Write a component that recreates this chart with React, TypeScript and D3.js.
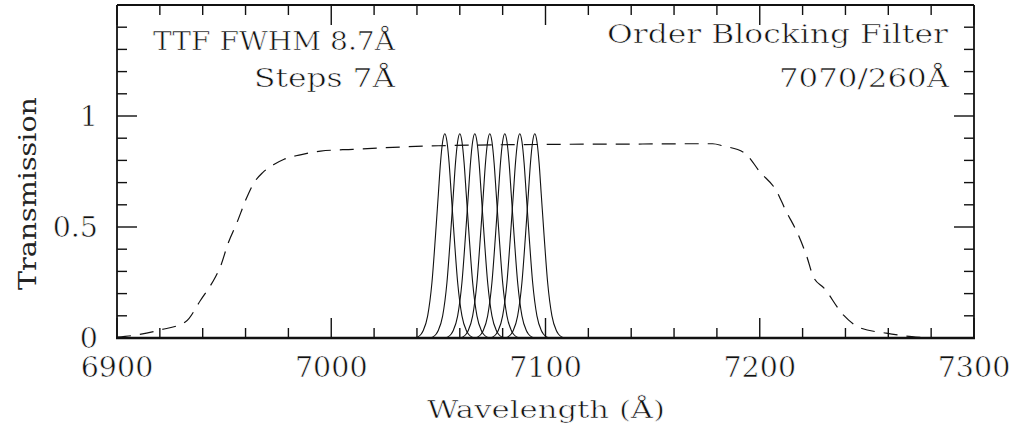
import React from "react";
import * as d3 from "d3";

const filterWl = [6900, 6910, 6920, 6932, 6939, 6946, 6948, 6952, 6956, 6960, 6964, 6968, 6973, 6978, 6985, 6995, 7010, 7050, 7100, 7150, 7166, 7178, 7183, 7193, 7200, 7208, 7212, 7218, 7222, 7225, 7230, 7239, 7247, 7259, 7271, 7278];
const filterT = [0.004, 0.015, 0.036, 0.073, 0.17, 0.276, 0.315, 0.43, 0.52, 0.62, 0.70, 0.745, 0.78, 0.805, 0.824, 0.842, 0.85, 0.866, 0.872, 0.874, 0.875, 0.875, 0.865, 0.833, 0.749, 0.659, 0.577, 0.464, 0.366, 0.276, 0.225, 0.104, 0.045, 0.022, 0.006, 0.0];

const peakCenters = [7053, 7060, 7067, 7074, 7081, 7088, 7095];
const profileOffset = [-14, -12.5, -11, -10, -8, -6, -4.35, -3, -2, -1, 0, 1, 2, 3, 4.35, 6, 8, 10, 11, 12.5, 14];
const profileT = [0, 0.005, 0.018, 0.035, 0.1, 0.25, 0.46, 0.65, 0.79, 0.885, 0.92, 0.885, 0.79, 0.65, 0.46, 0.25, 0.1, 0.035, 0.018, 0.005, 0];

const xMajor = [6900, 7000, 7100, 7200, 7300];
const xMinor = d3.range(6900, 7301, 20);
const yMajor = [0, 0.5, 1];
const yMajorLabels = ["0", "0.5", "1"];
const yMinor = d3.range(0, 1.51, 0.1);

const L = 117, R = 974, T = 5, B = 338;
const FONT = "'DejaVu Serif', serif";

export default function App() {
  const x = d3.scaleLinear().domain([6900, 7300]).range([L, R]);
  const y = d3.scaleLinear().domain([0, 1.5]).range([B, T]);
  const filterLine = d3.line<number>().x((_, i) => x(filterWl[i])).y((d) => y(d)).curve(d3.curveMonotoneX);
  const profileLine = (c: number) =>
    d3.line<number>().x((_, i) => x(c + profileOffset[i])).y((d) => y(d)).curve(d3.curveMonotoneX)(profileT) || "";
  const col = "#111";
  const thin = { stroke: "#fff", strokeWidth: 0.6 };
  return (
    <svg width={1016} height={434} style={{ position: "absolute", left: 0, top: 0, background: "#fff" }}>
      {xMinor.map((v) => {
        const maj = Math.abs(v % 100) < 1e-6;
        const len = maj ? 20 : 10;
        return (
          <g key={"xt" + v}>
            <line x1={x(v)} x2={x(v)} y1={B} y2={B - len} stroke={col} strokeWidth={1.4} />
            <line x1={x(v)} x2={x(v)} y1={T} y2={T + len} stroke={col} strokeWidth={1.4} />
          </g>
        );
      })}
      {yMinor.map((v, i) => {
        const maj = i % 5 === 0;
        const len = maj ? 20 : 10;
        return (
          <g key={"yt" + i}>
            <line x1={L} x2={L + len} y1={y(v)} y2={y(v)} stroke={col} strokeWidth={1.4} />
            <line x1={R} x2={R - len} y1={y(v)} y2={y(v)} stroke={col} strokeWidth={1.4} />
          </g>
        );
      })}
      <line x1={L} x2={R} y1={T} y2={T} stroke={col} strokeWidth={1.8} />
      <line x1={L} x2={L} y1={T} y2={B} stroke={col} strokeWidth={1.8} />
      <line x1={R} x2={R} y1={T} y2={B} stroke={col} strokeWidth={1.8} />
      <line x1={L - 1} x2={R + 1} y1={B} y2={B} stroke={col} strokeWidth={2.6} />
      <path d={filterLine(filterT) || ""} fill="none" stroke={col} strokeWidth={1.2} strokeDasharray="14 9" />
      {peakCenters.map((c) => (
        <path key={"p" + c} d={profileLine(c)} fill="none" stroke={col} strokeWidth={1.1} />
      ))}
      <g opacity={0.99}>
        <text transform="translate(36,290) rotate(-90)" fontFamily={FONT} fill="#222" fontSize={25} textLength={193} lengthAdjust="spacingAndGlyphs">
          Transmission
        </text>
      </g>
      <g fontFamily={FONT} fill={col} {...thin}>
        {xMajor.map((v) => (
          <text key={"xl" + v} x={x(v)} y={377} textAnchor="middle" fontSize={28.5}>
            {v}
          </text>
        ))}
        {yMajor.map((v, i) => (
          <text key={"yl" + v} x={98} y={y(v) + 10} textAnchor="end" fontSize={28.5}>
            {yMajorLabels[i]}
          </text>
        ))}
        <text x={427} y={418} fontSize={25} textLength={238} lengthAdjust="spacingAndGlyphs">
          Wavelength (Å)
        </text>
        <text x={153} y={50} fontSize={26} textLength={242} lengthAdjust="spacingAndGlyphs">
          TTF FWHM 8.7Å
        </text>
        <text x={254} y={87} fontSize={26} textLength={141} lengthAdjust="spacingAndGlyphs">
          Steps 7Å
        </text>
        <text x={607} y={43} fontSize={26} textLength={341} lengthAdjust="spacingAndGlyphs">
          Order Blocking Filter
        </text>
        <text x={779} y={87} fontSize={26} textLength={170} lengthAdjust="spacingAndGlyphs">
          7070/260Å
        </text>
      </g>
    </svg>
  );
}
